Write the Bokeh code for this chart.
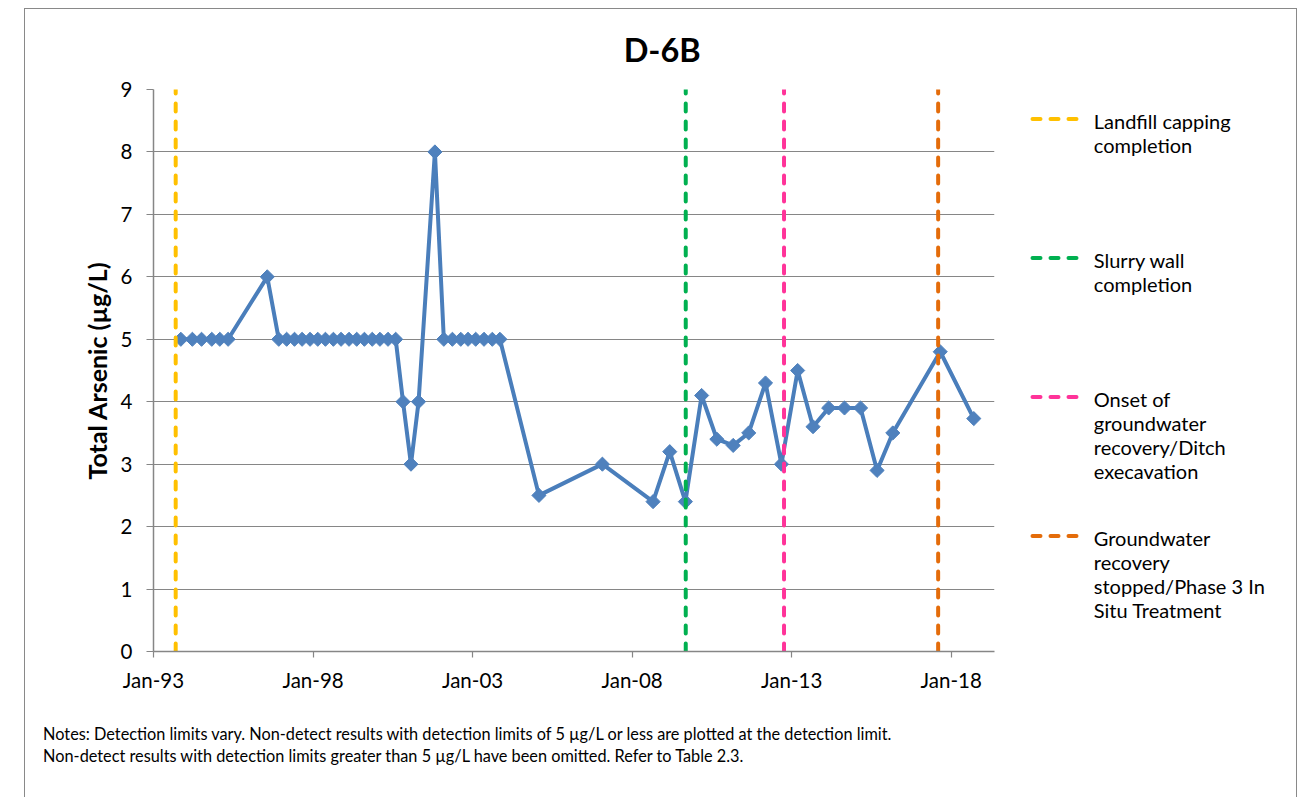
import pandas as pd
from bokeh.plotting import figure
from bokeh.layouts import row, column
from bokeh.models import ColumnDataSource, Range1d, FixedTicker, DatetimeTickFormatter
from bokeh.core.properties import value
from bokeh.embed import file_html
from bokeh.resources import INLINE

# ---------------- data ----------------
sample_dates = [
    "1993-11-10", "1994-03-22", "1994-07-05", "1994-10-30", "1995-01-30", "1995-05-05",
    "1996-07-26",
    "1996-12-05", "1997-03-05", "1997-06-03", "1997-08-29", "1997-11-28", "1998-02-24",
    "1998-05-23", "1998-08-22", "1998-11-18", "1999-02-17", "1999-05-16", "1999-08-12",
    "1999-11-10", "2000-02-06", "2000-05-08", "2000-08-04",
    "2000-10-27", "2001-01-26", "2001-04-23", "2001-10-27",
    "2002-02-06", "2002-05-15", "2002-08-19", "2002-11-10", "2003-02-06", "2003-05-12",
    "2003-08-15", "2003-11-10",
    "2005-01-30", "2007-01-26", "2008-08-28", "2009-03-07", "2009-09-02",
    "2010-03-07", "2010-08-28", "2011-03-03", "2011-08-28", "2012-03-07", "2012-09-05",
    "2013-03-10", "2013-09-02", "2014-02-28", "2014-08-28", "2015-02-28", "2015-09-05",
    "2016-03-03", "2017-08-28", "2018-09-16",
]
arsenic = [
    5, 5, 5, 5, 5, 5,
    6,
    5, 5, 5, 5, 5, 5,
    5, 5, 5, 5, 5, 5,
    5, 5, 5, 5,
    4, 3, 4, 8,
    5, 5, 5, 5, 5, 5,
    5, 5,
    2.5, 3.0, 2.4, 3.2, 2.4,
    4.1, 3.4, 3.3, 3.5, 4.3, 3.0,
    4.5, 3.6, 3.9, 3.9, 3.9, 2.9,
    3.5, 4.8, 3.73,
]

event_dates = ["1993-09-12", "2009-09-06", "2012-10-05", "2017-08-04"]
event_colors = ["#FFC000", "#00B050", "#FF3399", "#E46C0A"]
event_labels = [
    ["Landfill capping", "completion"],
    ["Slurry wall", "completion"],
    ["Onset of", "groundwater", "recovery/Ditch", "execavation"],
    ["Groundwater", "recovery", "stopped/Phase 3 In", "Situ Treatment"],
]

x_tick_years = [1993, 1998, 2003, 2008, 2013, 2018]
y_ticks = [0, 1, 2, 3, 4, 5, 6, 7, 8, 9]
x_start, x_end = "1993-01-01", "2019-05-11"
y_start, y_end = 0, 9

title_text = "D-6B"
y_label = "Total Arsenic (µg/L)"
notes = [
    "Notes: Detection limits vary. Non-detect results with detection limits of 5 µg/L or less are plotted at the detection limit.",
    "Non-detect results with detection limits greater than 5 µg/L have been omitted. Refer to Table 2.3.",
]

# ---------------- styles ----------------
FONT = "Lato"
GRAY = "#868686"
BLUE = "#4A7EBB"
TICK_SIZE = "20.5px"
TOTAL_W = 1271
TITLE_H, MAIN_H, NOTES_H = 60, 631, 97
MAIN_W = 985
LEG_W = TOTAL_W - MAIN_W


def panel(w, h):
    f = figure(width=w, height=h, x_range=Range1d(0, w), y_range=Range1d(h, 0),
               x_axis_location=None, y_axis_location=None, output_backend="svg",
               toolbar_location=None, min_border=0)
    f.grid.visible = False
    f.outline_line_color = None
    f.border_fill_color = "white"
    if hasattr(f, "frame_align"):
        f.frame_align = False
    return f


# ---------------- title panel ----------------
tf = panel(TOTAL_W, TITLE_H)
tf.text(x=[636.7], y=[39.5], text=[title_text], text_font=value(FONT), text_font_style="bold",
        text_font_size="32.5px", text_align="center", text_baseline="middle", text_color="#000000")

# ---------------- main chart ----------------
src = ColumnDataSource(dict(date=pd.to_datetime(sample_dates), val=arsenic))
ev = ColumnDataSource(dict(date=pd.to_datetime(event_dates), color=event_colors,
                           y0=[y_start] * len(event_dates), y1=[y_end] * len(event_dates)))

p = figure(width=MAIN_W, height=MAIN_H, x_axis_type="datetime",
           x_range=Range1d(pd.Timestamp(x_start), pd.Timestamp(x_end)),
           y_range=Range1d(y_start, y_end),
           output_backend="svg", toolbar_location=None,
           min_border_left=128, min_border_right=16, min_border_top=20, min_border_bottom=49)
if hasattr(p, "frame_align"):
    p.frame_align = False
p.outline_line_color = None
p.background_fill_color = "white"
p.border_fill_color = "white"
p.xgrid.visible = False
p.ygrid.grid_line_color = GRAY
p.ygrid.grid_line_width = 1.2

p.xaxis.ticker = FixedTicker(ticks=[pd.Timestamp(f"{yr}-01-01").value // 10**6 for yr in x_tick_years])
fmt = "%b-%y"
p.xaxis.formatter = DatetimeTickFormatter(years=fmt, months=fmt, days=fmt, hours=fmt, hourmin=fmt,
                                          minutes=fmt, minsec=fmt, seconds=fmt, milliseconds=fmt,
                                          microseconds=fmt)
p.yaxis.ticker = FixedTicker(ticks=y_ticks)

for ax in (p.xaxis[0], p.yaxis[0]):
    ax.axis_line_color = GRAY
    ax.axis_line_width = 1.5
    ax.major_tick_line_color = GRAY
    ax.major_tick_line_width = 1.2
    ax.minor_tick_line_color = None
    ax.major_tick_in = 0
    ax.major_label_text_font = FONT
    ax.major_label_text_font_size = TICK_SIZE
    ax.major_label_text_color = "#000000"
p.yaxis.major_tick_out = 7
p.xaxis.major_tick_out = 6
p.yaxis.major_label_standoff = 14
p.xaxis.major_label_standoff = 10
p.yaxis.axis_label = y_label
p.yaxis.axis_label_text_font = FONT
p.yaxis.axis_label_text_font_style = "bold"
p.yaxis.axis_label_text_font_size = "25px"
p.yaxis.axis_label_text_color = "#000000"
p.yaxis.axis_label_standoff = 6

p.line("date", "val", source=src, line_color=BLUE, line_width=4, line_join="round")
p.scatter("date", "val", source=src, marker="square", angle=0.785398, size=10,
          fill_color="#4F81BD", line_color="#4F81BD", line_width=1)
p.segment(x0="date", x1="date", y0="y0", y1="y1", source=ev, line_color="color",
          line_width=4, line_dash="8 10", line_cap="round")

# ---------------- legend panel ----------------
lg = panel(LEG_W, MAIN_H)
top, step, line_gap = 49.5, 139, 24.3
seg_x0, seg_x1, text_x = 22, 72, 83.3
seg = dict(x0=[], x1=[], y=[], color=[])
txt = dict(x=[], y=[], text=[])
for i, (lines, col) in enumerate(zip(event_labels, event_colors)):
    yc = top + step * i
    seg["x0"].append(seg_x0); seg["x1"].append(seg_x1); seg["y"].append(yc); seg["color"].append(col)
    for j, t in enumerate(lines):
        txt["x"].append(text_x); txt["y"].append(yc + 1.5 + line_gap * j); txt["text"].append(t)
lg.segment(x0="x0", x1="x1", y0="y", y1="y", source=ColumnDataSource(seg), line_color="color",
           line_width=4, line_dash="8 10", line_cap="round")
lg.text(x="x", y="y", text="text", source=ColumnDataSource(txt), text_font=value(FONT),
        text_font_size="20px", text_baseline="middle", text_align="left", text_color="#000000")

# ---------------- notes panel ----------------
nf = panel(TOTAL_W, NOTES_H)
nf.text(x=[17.6, 17.6], y=[33, 55], text=notes, text_font=value(FONT), text_font_size="16.3px",
        text_baseline="middle", text_align="left", text_color="#000000")

layout = column(tf, row(p, lg, spacing=0), nf, spacing=0, margin=(8, 0, 0, 24),
                styles={"border-top": "1px solid #898989", "border-left": "1px solid #898989",
                        "border-right": "1px solid #898989"})

open("out.html", "w").write(file_html(layout, INLINE))
